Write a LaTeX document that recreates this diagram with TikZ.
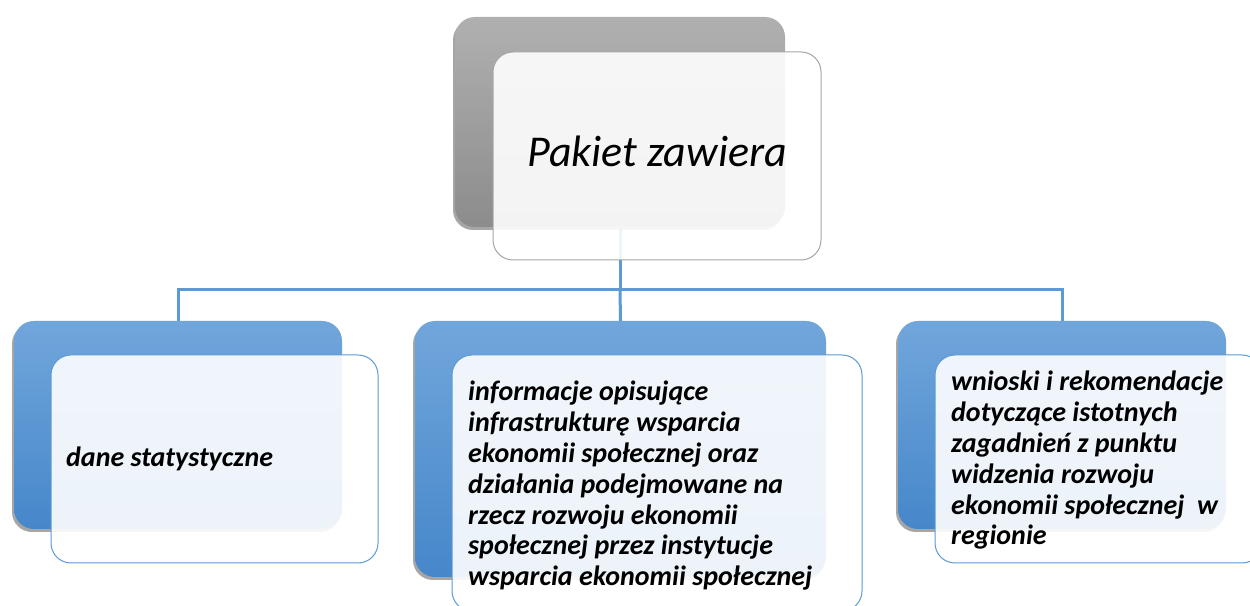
\documentclass[tikz,border=0pt]{standalone}
\usepackage{fontspec}
\setmainfont{Carlito}
\usetikzlibrary{shadows}
\definecolor{lineblue}{RGB}{91,155,213}
\definecolor{bluetop}{RGB}{113,166,219}
\definecolor{bluebot}{RGB}{70,135,202}
\definecolor{graytop}{RGB}{176,176,176}
\definecolor{graybot}{RGB}{140,140,140}
\definecolor{frameblue}{RGB}{91,155,213}
\definecolor{framegray}{RGB}{165,165,165}
\tikzset{
  backbox/.style={rounded corners=20pt, inner sep=0pt, outer sep=0pt, anchor=north west, draw=none,
    drop shadow={shadow xshift=-2pt, shadow yshift=-3pt, opacity=0.35, fill=black}},
  blueback/.style={backbox, top color=bluetop, bottom color=bluebot},
  grayback/.style={backbox, top color=graytop, bottom color=graybot},
  frontbox/.style={rounded corners=20pt, inner sep=0pt, outer sep=0pt, anchor=north west,
    fill=white, fill opacity=0.9, draw opacity=1, line width=1pt},
  bluefront/.style={frontbox, draw=frameblue},
  grayfront/.style={frontbox, draw=framegray},
  conn/.style={draw=lineblue, line width=3pt},
  childfont/.style={font=\fontsize{28}{30.8}\selectfont\bfseries\itshape},
  childtext/.style={childfont, inner sep=0pt, anchor=north west, align=left, text=black},
}
\begin{document}
\begin{tikzpicture}[x=1pt,y=1pt]
\useasboundingbox (0,0) rectangle (1250,605);
\clip (0,0) rectangle (1250,605);
\fill[white] (0,0) rectangle (1250,605);
% back boxes
\node[grayback, minimum width=330pt, minimum height=210pt] (topback) at (455,588) {};
\node[blueback, minimum width=328pt, minimum height=208pt] (lback) at (14,284) {};
\node[blueback, minimum width=411pt, minimum height=256pt] (mback) at (415,284) {};
\node[blueback, minimum width=328pt, minimum height=208pt] (rback) at (898,284) {};
% connectors
\coordinate (hub) at (620,315);
\draw[conn] (topback.south) -- (hub);
\draw[conn] (hub) -| (lback.north);
\draw[conn] (hub) -- (mback.north);
\draw[conn] (hub) -| (rback.north);
% front boxes
\node[grayfront, minimum width=328pt, minimum height=208pt] (top) at (493,553) {};
\node[bluefront, minimum width=327pt, minimum height=208pt] (lfront) at (51,250) {};
\node[bluefront, minimum width=410pt, minimum height=256pt] (mfront) at (452,250) {};
\node[bluefront, minimum width=327pt, minimum height=208pt] (rfront) at (935,250) {};
% texts
\node[inner sep=0pt, anchor=base west, font=\fontsize{44}{50}\selectfont\itshape] (ttext) at (527,438) {Pakiet zawiera};
\node[childfont, inner sep=0pt, anchor=base west] (ltext) at (66,138) {dane statystyczne};
\node[childtext] (mtext) at (468,224) {informacje opisujące\\infrastrukturę wsparcia\\ekonomii społecznej oraz\\działania podejmowane na\\rzecz rozwoju ekonomii\\społecznej przez instytucje\\wsparcia ekonomii społecznej};
\node[childtext] (rtext) at (951,234) {wnioski i rekomendacje\\dotyczące istotnych\\zagadnień z punktu\\widzenia rozwoju\\ekonomii społecznej\ \ w\\regionie};
\end{tikzpicture}
\end{document}
